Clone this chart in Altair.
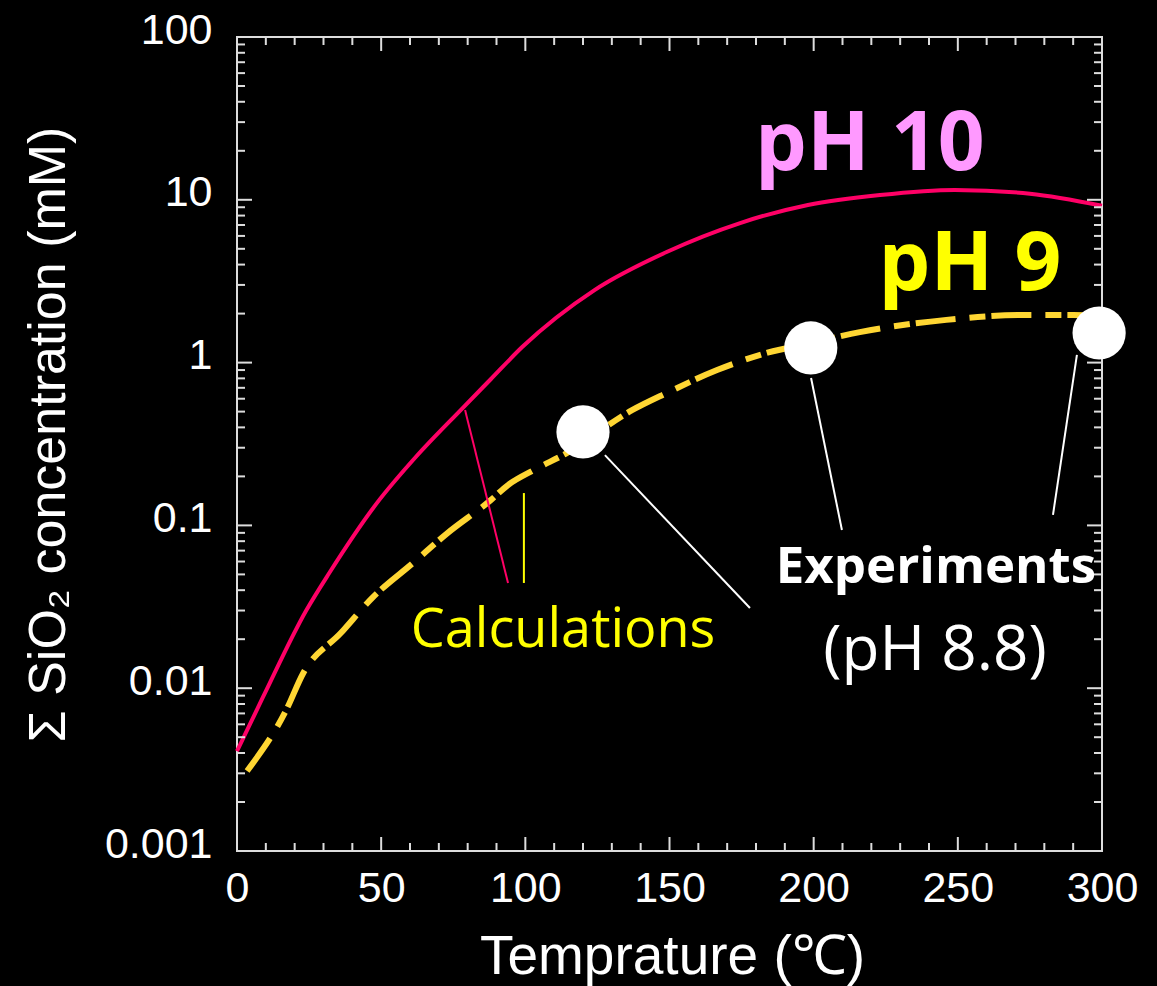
import altair as alt
import pandas as pd

# ---- data ----
T_PH10 = [0, 9, 24, 32, 48.5, 62, 78, 88, 99, 124, 149, 174.5, 198, 223, 249, 275, 300]
C_PH10 = [0.0041, 0.0088, 0.030, 0.051, 0.137, 0.263, 0.52, 0.79, 1.25, 2.79, 4.78, 7.2, 9.3, 10.7, 11.5, 10.9, 9.2]

T_PH9 = [3.5, 17, 23, 36, 47, 61, 73, 88, 94, 103, 114.5, 137, 149, 166.5, 184, 199, 216, 246, 272, 290, 300]
C_PH9 = [0.0031, 0.0073, 0.0124, 0.0218, 0.036, 0.0587, 0.0897, 0.143, 0.177, 0.219, 0.279, 0.51, 0.65, 0.90,
         1.15, 1.32, 1.54, 1.83, 1.96, 1.96, 1.93]

T_EXP = [120, 199, 299]
C_EXP = [0.375, 1.23, 1.52]

X_MAJOR = [0, 50, 100, 150, 200, 250, 300]
X_MINOR = [10, 20, 30, 40, 60, 70, 80, 90, 110, 120, 130, 140, 160, 170, 180, 190,
           210, 220, 230, 240, 260, 270, 280, 290]
Y_MAJOR = [0.001, 0.01, 0.1, 1, 10, 100]
Y_MINOR = [m * d for d in [0.001, 0.01, 0.1, 1, 10] for m in range(2, 10)]

# annotation texts
LABELS = ["pH 10", "pH 9", "Calculations", "Experiments", "(pH 8.8)"]
LABEL_T = [219.5, 254.2, 113.1, 242.4, 242.1]
LABEL_C = [15.2, 2.79, 0.0179, 0.0443, 0.01294]

# leader lines (start -> end)
LEAD_NAME = ["pink", "yellow", "white", "white", "white"]
LEAD_T = [79.1, 99.5, 127.6, 199.1, 291.3]
LEAD_C = [0.512, 0.158, 0.270, 0.804, 1.114]
LEAD_T2 = [94.0, 99.5, 177.9, 209.8, 283.0]
LEAD_C2 = [0.0443, 0.0443, 0.0311, 0.0937, 0.116]

W, H = 865, 814
FONT = "Liberation Sans"
TICK_COLOR = "#DDDDDD"

xs = alt.Scale(domain=[0, 300], nice=False, zero=False)
ys = alt.Scale(type="log", domain=[0.001, 100], nice=False)

x_axis = alt.Axis(values=X_MAJOR, ticks=False, tickSize=0, domain=False, grid=False,
                  labelFontSize=43, labelColor="white", labelFont=FONT, labelPadding=16,
                  labelFlush=False, labelOverlap=False, labelBound=False,
                  title="Temprature (℃)", titleFontSize=55, titleFont=FONT, titleFontWeight="normal",
                  titleColor="white", titleX=435, titleY=122, titleBaseline="alphabetic",
                  titleAlign="center")
y_axis = alt.Axis(values=Y_MAJOR, format="~g", ticks=False, tickSize=0, domain=False, grid=False,
                  labelFontSize=43, labelColor="white", labelFont=FONT, labelPadding=25,
                  labelOffset=-7, labelFlush=False, labelOverlap=False, labelBound=False,
                  title="Σ SiO₂ concentration (mM)", titleFontSize=52, titleFont=FONT,
                  titleFontWeight="normal", titleColor="white", titleX=-173, titleY=397,
                  titleAngle=270, titleBaseline="alphabetic", titleAlign="center")

X = lambda f="T": alt.X(f"{f}:Q", scale=xs, axis=x_axis)
Y = lambda f="C": alt.Y(f"{f}:Q", scale=ys, axis=y_axis)

df10 = pd.DataFrame({"T": T_PH10, "C": C_PH10})
df9 = pd.DataFrame({"T": T_PH9, "C": C_PH9})
dfe = pd.DataFrame({"T": T_EXP, "C": C_EXP})

pink = alt.Chart(df10).mark_line(color="#FF0066", strokeWidth=4, interpolate="monotone").encode(
    x=X(), y=Y())
yellow = alt.Chart(df9).mark_line(color="#FFD633", strokeWidth=6, strokeDash=[40, 14, 16, 6],
                                  interpolate="monotone").encode(x=X(), y=Y())

# ticks (inward, on all four sides)
def xticks(vals, length, top):
    d = pd.DataFrame({"T": vals})
    if top:
        return alt.Chart(d).mark_rule(color=TICK_COLOR, strokeWidth=2).encode(
            x=X(), y=alt.value(0), y2=alt.value(length))
    return alt.Chart(d).mark_rule(color=TICK_COLOR, strokeWidth=2).encode(
        x=X(), y=alt.value(H), y2=alt.value(H - length))

def yticks(vals, length, right):
    d = pd.DataFrame({"C": vals})
    if right:
        return alt.Chart(d).mark_rule(color=TICK_COLOR, strokeWidth=2).encode(
            y=Y(), x=alt.value(W), x2=alt.value(W - length))
    return alt.Chart(d).mark_rule(color=TICK_COLOR, strokeWidth=2).encode(
        y=Y(), x=alt.value(0), x2=alt.value(length))

ticks = [xticks(X_MAJOR, 14, False), xticks(X_MINOR, 8, False),
         xticks(X_MAJOR, 14, True), xticks(X_MINOR, 8, True),
         yticks(Y_MAJOR, 15, False), yticks(Y_MINOR, 8, False),
         yticks(Y_MAJOR, 15, True), yticks(Y_MINOR, 8, True)]

dfl = pd.DataFrame({"name": LEAD_NAME, "T": LEAD_T, "C": LEAD_C, "T2": LEAD_T2, "C2": LEAD_C2})
leaders = alt.Chart(dfl).mark_rule(strokeWidth=2).encode(
    x=X(), y=Y(), x2="T2:Q", y2="C2:Q",
    color=alt.Color("name:N", scale=alt.Scale(domain=["pink", "yellow", "white"],
                                              range=["#FF0066", "#FFFF00", "#FFFFFF"]), legend=None))

circles = alt.Chart(dfe).mark_circle(color="white", opacity=1, size=2830).encode(x=X(), y=Y())

def label(i, color, size, weight, font):
    d = pd.DataFrame({"T": [LABEL_T[i]], "C": [LABEL_C[i]], "txt": [LABELS[i]]})
    return alt.Chart(d).mark_text(color=color, fontSize=size, fontWeight=weight, font=font,
                                  align="center", baseline="alphabetic").encode(
        x=X(), y=Y(), text="txt:N")

texts = [label(0, "#FF99FF", 82, "bold", "Open Sans"),
         label(1, "#FFFF00", 82, "bold", "Open Sans"),
         label(2, "#FFFF00", 54, "normal", "Open Sans"),
         label(3, "#FFFFFF", 51, "bold", "Open Sans"),
         label(4, "#FFFFFF", 62, "normal", "Open Sans")]

chart = alt.layer(pink, yellow, *ticks, leaders, circles, *texts).properties(
    width=W, height=H,
    padding={"left": 237, "top": 37, "right": 55, "bottom": 135},
    autosize=alt.AutoSizeParams(type="none"),
    background="black",
).configure_view(stroke="#DDDDDD", strokeWidth=2)

chart.save("out.html", embed_options={"renderer": "svg", "actions": False})
